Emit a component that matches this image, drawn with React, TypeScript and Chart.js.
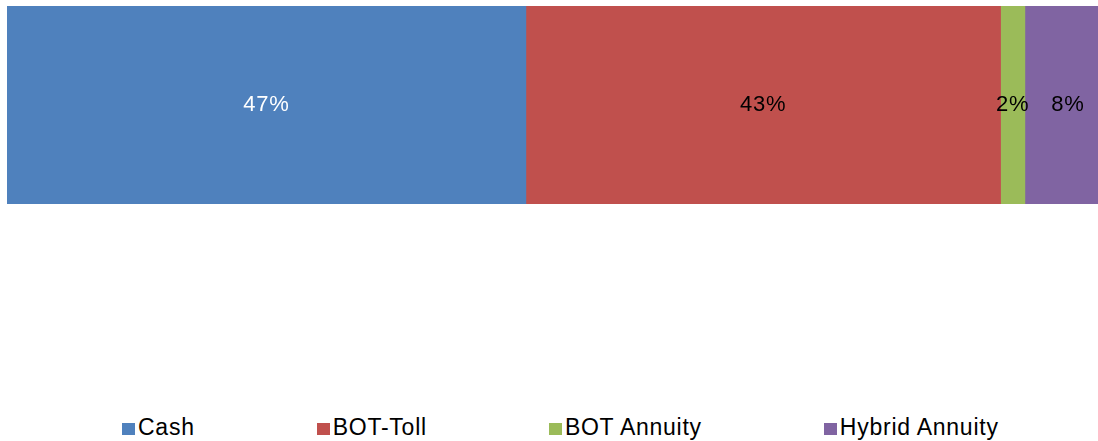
import React, { useEffect, useRef } from "react";
import { Chart, registerables } from "chart.js";

Chart.register(...registerables);

const categories = ["Share"];
const seriesNames = ["Cash", "BOT-Toll", "BOT Annuity", "Hybrid Annuity"];
const seriesValues = [47, 43, 2.2, 7.8];
const seriesColors = ["#4F81BD", "#C0504D", "#9BBB59", "#8064A2"];
const labelColors = ["#FFFFFF", "#000000", "#000000", "#000000"];

const FONT = '"Liberation Sans", Arial, sans-serif';

const valueLabels = {
  id: "valueLabels",
  afterDatasetsDraw(chart: any) {
    const ctx = chart.ctx;
    ctx.save();
    ctx.font = `22px ${FONT}`;
    (ctx as any).letterSpacing = "0.8px";
    ctx.textAlign = "center";
    ctx.textBaseline = "middle";
    chart.data.datasets.forEach((ds: any, i: number) => {
      const meta = chart.getDatasetMeta(i);
      meta.data.forEach((el: any, j: number) => {
        const p = el.getCenterPoint();
        ctx.fillStyle = labelColors[i];
        ctx.fillText(`${Math.round(ds.data[j])}%`, p.x, p.y);
      });
    });
    ctx.restore();
  },
};

export default function App() {
  const ref = useRef<HTMLCanvasElement | null>(null);

  useEffect(() => {
    if (!ref.current) return;
    const chart = new Chart(ref.current, {
      type: "bar",
      data: {
        labels: categories,
        datasets: seriesNames.map((name, i) => ({
          label: name,
          data: [seriesValues[i]],
          backgroundColor: seriesColors[i],
          borderWidth: 0,
          barPercentage: 1,
          categoryPercentage: 1,
        })),
      },
      options: {
        indexAxis: "y",
        animation: false,
        responsive: true,
        maintainAspectRatio: false,
        layout: { padding: { left: 7, top: 6, bottom: 6, right: 0 } },
        scales: {
          x: { stacked: true, min: 0, max: 100, display: false },
          y: { stacked: true, display: false },
        },
        plugins: {
          legend: { display: false },
          tooltip: { enabled: false },
        },
      },
      plugins: [valueLabels],
    });
    return () => chart.destroy();
  }, []);

  return (
    <div
      style={{
        position: "absolute",
        left: 0,
        top: 0,
        width: 1098,
        height: 441,
        overflow: "hidden",
        background: "#fff",
      }}
    >
      <div style={{ position: "absolute", left: 0, top: 0, width: 1111, height: 210 }}>
        <canvas ref={ref} />
      </div>
      <div
        style={{
          position: "absolute",
          left: 122,
          top: 413,
          display: "flex",
          gap: 122,
          alignItems: "center",
          fontFamily: FONT,
          fontSize: 23,
          letterSpacing: "0.75px",
          color: "#000",
          whiteSpace: "nowrap",
          lineHeight: "28px",
        }}
      >
        {seriesNames.map((name, i) => (
          <div key={name} style={{ display: "flex", alignItems: "center" }}>
            <span
              style={{
                display: "inline-block",
                width: 13,
                height: 12,
                background: seriesColors[i],
                marginRight: 3,
                marginTop: 3,
              }}
            />
            <span>{name}</span>
          </div>
        ))}
      </div>
    </div>
  );
}
